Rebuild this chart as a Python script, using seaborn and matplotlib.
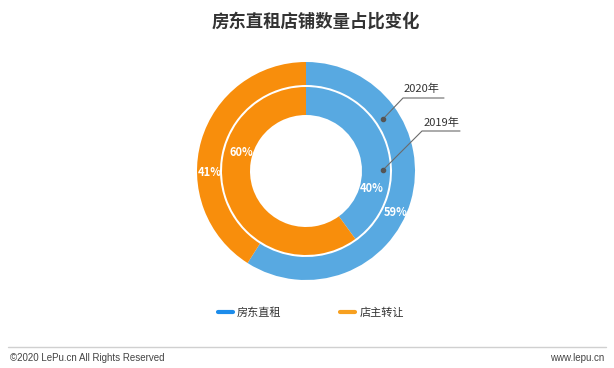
import numpy as np
import seaborn as sns
from matplotlib import pyplot as plt
from matplotlib.lines import Line2D

sns.set_theme(style="white")
plt.rcParams["font.family"] = ["Noto Sans CJK SC", "DejaVu Sans"]

# data
categories = ["房东直租", "店主转让"]
share_2020 = [59, 41]
share_2019 = [40, 60]
ring_names = ["2020年", "2019年"]

ring_colors = ["#58A9E1", "#F88E0C"]
legend_colors = ["#1C8CEB", "#F7A020"]

W, H = 614, 368
fig = plt.figure(figsize=(W / 100, H / 100), dpi=100)
ax = fig.add_axes([0, 0, 1, 1])

cx, cy = 306, H - 171

# outer ring = 2020, inner ring = 2019
ax.pie(share_2020, colors=ring_colors, startangle=90, counterclock=False,
       radius=109, center=(cx, cy), wedgeprops=dict(width=23, edgecolor="none"))
ax.pie(share_2019, colors=ring_colors, startangle=90, counterclock=False,
       radius=84, center=(cx, cy), wedgeprops=dict(width=28, edgecolor="none"))
ax.set_xlim(0, W)
ax.set_ylim(0, H)
ax.set_aspect("equal")
ax.axis("off")

# percentage labels
lab_pos_2020 = [(396, 213), (210, 173)]
lab_pos_2019 = [(372, 188), (241, 152)]
for vals, pos in [(share_2020, lab_pos_2020), (share_2019, lab_pos_2019)]:
    for v, (x, y) in zip(vals, pos):
        ax.text(x, H - y, f"{v}%", color="white", fontsize=8, fontweight="bold",
                ha="center", va="center")

# leader lines for ring names
leaders = [
    [(383, 119), (403, 98), (444, 98)],
    [(383, 170), (422, 131), (460, 131)],
]
name_pos = [(421, 89), (441, 123)]
for pts, name, (tx, ty) in zip(leaders, ring_names, name_pos):
    xs = [p[0] for p in pts]
    ys = [H - p[1] for p in pts]
    ax.plot(xs, ys, color="#6b6b6b", lw=0.8)
    ax.plot(xs[0], ys[0], "o", color="#555555", ms=3)
    ax.text(tx, H - ty, name, color="#333333", fontsize=8, ha="center", va="center")

# title
ax.text(316, H - 22, "房东直租店铺数量占比变化", fontsize=12.5, fontweight="bold",
        color="#333333", ha="center", va="center")

# legend
handles = [Line2D([0], [0], color=c, lw=3) for c in legend_colors]
fig.legend(handles, categories, loc="center", bbox_to_anchor=(311 / W, 1 - 313 / H),
           ncol=2, frameon=False, fontsize=8, handlelength=1.3, handletextpad=0.4,
           columnspacing=5.3, labelcolor="#333333")

# footer
ax.plot([8, 606], [H - 347, H - 347], color="#d0d0d0", lw=1)
ax.text(10, H - 358, "©2020 LePu.cn All Rights Reserved", fontsize=7,
        family="Liberation Sans", color="#444444", ha="left", va="center")
ax.text(604, H - 358, "www.lepu.cn", fontsize=7, family="Liberation Sans",
        color="#444444", ha="right", va="center")

fig.savefig("out.png", dpi=100, facecolor="white")
